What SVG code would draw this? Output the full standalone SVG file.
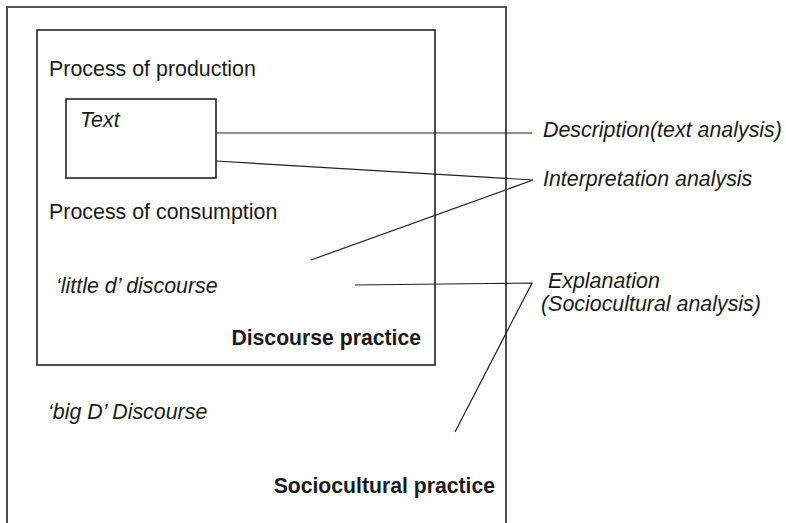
<svg xmlns="http://www.w3.org/2000/svg" width="786" height="523" viewBox="0 0 786 523">
<style>
.box{fill:none;stroke:#222;stroke-width:1.6}
.ln{fill:none;stroke:#222;stroke-width:1.2}
.t{font-family:"Liberation Sans",Arial,sans-serif;font-size:21.4px;fill:#1a1a1a}
.i{font-style:italic}
.b{font-weight:bold;font-size:21.2px}
</style>
<rect width="786" height="523" fill="#fff"/>
<g id="sociocultural-practice">
<path class="box" d="M7,530 V7 H506 V530"/>
<text class="t i" x="48" y="419">‘big D’ Discourse</text>
<text class="t b" x="495" y="493" text-anchor="end">Sociocultural practice</text>
</g>
<g id="discourse-practice">
<rect class="box" x="37" y="30" width="398" height="335"/>
<text class="t" x="49" y="76">Process of production</text>
<text class="t" x="49" y="219">Process of consumption</text>
<text class="t i" x="56" y="293">‘little d’ discourse</text>
<text class="t b" x="421" y="345" text-anchor="end">Discourse practice</text>
</g>
<g id="text-box">
<rect class="box" x="66" y="99" width="150" height="79"/>
<text class="t i" x="80" y="127">Text</text>
</g>
<g id="connectors">
<path class="ln" d="M216,133 H532"/>
<path class="ln" d="M216,161 L533,180 L311,260"/>
<path class="ln" d="M355,285 L532,283 L455,432"/>
</g>
<g id="labels">
<text class="t i" x="543" y="137">Description(text analysis)</text>
<text class="t i" x="543" y="186">Interpretation analysis</text>
<text class="t i" x="548" y="288">Explanation</text>
<text class="t i" x="541" y="311">(Sociocultural analysis)</text>
</g>
</svg>
